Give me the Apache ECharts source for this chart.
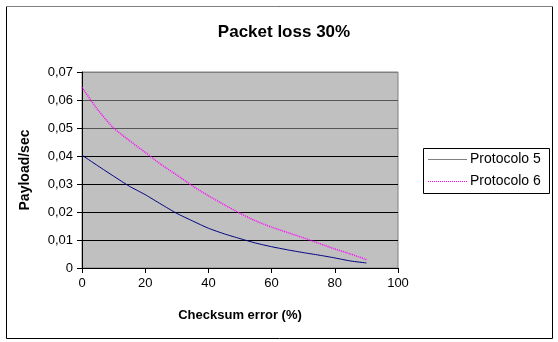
<!DOCTYPE html>
<html>
<head>
<meta charset="utf-8">
<script src="https://cdn.jsdelivr.net/npm/echarts@6/dist/echarts.min.js"></script>
<style>
  html, body { margin: 0; padding: 0; background: #fff; }
  #chart { width: 558px; height: 342px; }
</style>
</head>
<body>
<div id="chart"></div>
<script>
// Checksum error (%) sampled every 5 points
var checksumError = [0, 5, 10, 15, 20, 25, 30, 35, 40, 45, 50, 55, 60, 65, 70, 75, 80, 85, 90];

// Payload/sec for each protocol
var protocolo5 = [0.0403, 0.0365, 0.0328, 0.0292, 0.0262, 0.0228, 0.0195, 0.0168, 0.0142, 0.0122,
                  0.0105, 0.0089, 0.0076, 0.0065, 0.0055, 0.0046, 0.0036, 0.0025, 0.0018];
var protocolo6 = [0.0645, 0.0565, 0.0500, 0.0455, 0.0413, 0.0370, 0.0332, 0.0293, 0.0258, 0.0226,
                  0.0195, 0.0168, 0.0146, 0.0127, 0.0108, 0.0088, 0.0068, 0.0050, 0.0030];

var seriesNames = ['Protocolo 5', 'Protocolo 6'];
var titleText = 'Packet loss 30%';
var xAxisName = 'Checksum error (%)';
var yAxisName = 'Payload/sec';

function pairs(xs, ys) {
  return xs.map(function (x, i) { return [x, ys[i]]; });
}

var FONT = '"Liberation Sans", Arial, sans-serif';
var chart = echarts.init(document.getElementById('chart'), null, { renderer: 'canvas' });

// Legend box drawn as a small group: key line + label per series
function legendGroup() {
  var keyStyles = [
    { stroke: '#808080', lineWidth: 1 },
    { stroke: '#ff00ff', lineWidth: 1, lineDash: [1, 1] }
  ];
  var children = [{
    type: 'rect',
    shape: { x: 0.5, y: 0.5, width: 126, height: 45 },
    style: { fill: '#fff', stroke: '#000', lineWidth: 1 }
  }];
  seriesNames.forEach(function (name, i) {
    var cy = 11.5 + i * 22;
    children.push({
      type: 'line',
      shape: { x1: 5, y1: cy, x2: 44, y2: cy },
      style: keyStyles[i]
    });
    children.push({
      type: 'text',
      x: 47,
      y: cy,
      style: {
        text: name, fill: '#000', font: '14px ' + FONT,
        textVerticalAlign: 'middle', verticalAlign: 'middle'
      }
    });
  });
  return { type: 'group', left: 423, top: 148, children: children, z: 10 };
}

chart.setOption({
  backgroundColor: '#ffffff',
  animation: false,
  title: {
    text: titleText,
    left: 279,
    textAlign: 'center',
    top: 19,
    textStyle: { fontFamily: FONT, fontSize: 17, fontWeight: 'bold', color: '#000' }
  },
  graphic: [
    {
      type: 'rect',
      shape: { x: 6.5, y: 6.5, width: 546, height: 332 },
      style: { fill: null, stroke: '#000', lineWidth: 1 },
      z: 0
    },
    {
      type: 'line',
      shape: { x1: 6, y1: 6.5, x2: 553, y2: 6.5 },
      style: { stroke: '#808080', lineWidth: 1 },
      z: 1
    },
    legendGroup()
  ],
  grid: {
    left: 82,
    top: 72,
    width: 316,
    height: 196,
    show: true,
    backgroundColor: '#c0c0c0',
    borderColor: '#808080',
    borderWidth: 1
  },
  xAxis: {
    type: 'value',
    min: 0,
    max: 100,
    interval: 20,
    name: xAxisName,
    nameLocation: 'middle',
    nameGap: 41,
    nameTextStyle: { fontFamily: FONT, fontSize: 13, fontWeight: 'bold', color: '#000' },
    axisLine: { show: true, onZero: false, lineStyle: { color: '#000', width: 1 } },
    axisTick: { show: true, length: 5, inside: false, lineStyle: { color: '#000' } },
    axisLabel: { fontFamily: FONT, fontSize: 13, color: '#000', margin: 9 },
    splitLine: { show: false }
  },
  yAxis: {
    type: 'value',
    min: 0,
    max: 0.07,
    interval: 0.01,
    name: yAxisName,
    nameLocation: 'middle',
    nameGap: 50,
    nameTextStyle: { fontFamily: FONT, fontSize: 14, fontWeight: 'bold', color: '#000' },
    axisLine: { show: true, lineStyle: { color: '#000', width: 1 } },
    axisTick: { show: true, length: 5, lineStyle: { color: '#000' } },
    axisLabel: {
      fontFamily: FONT, fontSize: 13, color: '#000', margin: 9,
      formatter: function (v) {
        if (v === 0) return '0';
        return v.toFixed(2).replace('.', ',');
      }
    },
    splitLine: {
      show: true,
      lineStyle: { color: ['#000', '#000', '#000', '#000', '#000', '#555', '#555', '#808080'], width: 1 }
    }
  },
  series: [
    {
      name: seriesNames[0],
      type: 'line',
      data: pairs(checksumError, protocolo5),
      symbol: 'none',
      smooth: 0.2,
      lineStyle: { color: '#000080', width: 1 },
      itemStyle: { color: '#000080' },
      z: 3
    },
    {
      name: seriesNames[1],
      type: 'line',
      data: pairs(checksumError, protocolo6),
      symbol: 'none',
      smooth: 0.2,
      lineStyle: { color: '#ff00ff', width: 1.5, type: [1, 1] },
      itemStyle: { color: '#ff00ff' },
      z: 4
    }
  ]
});
</script>
</body>
</html>
